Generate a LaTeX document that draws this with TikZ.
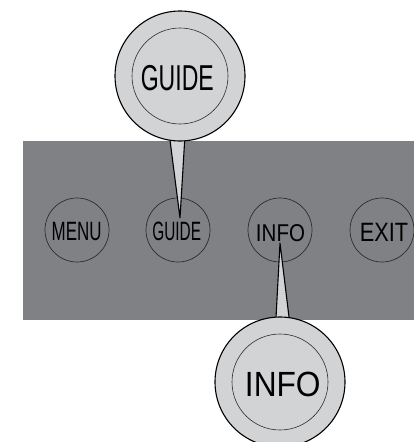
\documentclass[tikz,border=0pt]{standalone}
\usepackage{fontspec}
\usetikzlibrary{calc}
\setmainfont{Liberation Sans}
\definecolor{panel}{RGB}{128,129,133}
\definecolor{bubble}{RGB}{210,211,213}
\definecolor{ringc}{RGB}{45,45,45}
\newcommand{\lbl}[3]{\scalebox{#1}[1]{\fontsize{#2}{#2}\selectfont #3}}
\begin{document}
\begin{tikzpicture}[x=1pt,y=-1pt,
  button/.style={circle,draw=ringc,line width=0.7pt,minimum size=64pt,inner sep=0pt},
  bigring/.style={circle,draw=black,line width=1.1pt,fill=bubble,minimum size=130pt,inner sep=0pt},
  smallring/.style={circle,draw=ringc,line width=0.6pt,minimum size=96pt,inner sep=0pt},
  word/.style={inner sep=0pt,text=black},
  tail/.style={draw=black,line width=1.1pt,fill=bubble,line join=miter}]
\useasboundingbox (0,0) rectangle (414,442);
\fill[panel] (23,141) rectangle (414,320);
% buttons
\node[button] (menu) at (77,230) {};
\node[button] (guide) at (178,230) {};
\node[button] (info) at (280,230) {};
\node[button] (exit) at (382,230) {};
\node[word] (menut) at (76.7,231.2) {\lbl{0.64}{26.5}{MENU}};
\node[word] (guidet) at (176.7,231.2) {\lbl{0.58}{26.5}{GUIDE}};
\node[word] (infot) at (280.5,233) {\lbl{0.845}{24.3}{INFO}};
\node[word] (exitt) at (384,232.8) {\lbl{0.82}{26.5}{EXIT}};
% tip points
\coordinate (gtip) at (180,218);
\coordinate (itip) at (280,243);
% GUIDE callout
\coordinate (gbig) at (180,76);
\draw[tail] ($(gbig)+(-11.3,54)$) -- (gtip) -- ($(gbig)+(5.3,54)$);
\node[bigring] (guidebig) at (gbig) {};
\node[smallring] (guidein) at (gbig) {};
\node[word] (guidebigt) at (177.3,77.8) {\lbl{0.64}{36}{GUIDE}};
% INFO callout
\coordinate (ibig) at (280,382);
\draw[tail] ($(ibig)+(-4.5,-55)$) -- (itip) -- ($(ibig)+(10.2,-55)$);
\node[bigring] (infobig) at (ibig) {};
\node[smallring] (infoin) at (ibig) {};
\node[word] (infobigt) at (282.8,384.2) {\lbl{0.905}{35}{INFO}};
\end{tikzpicture}
\end{document}
